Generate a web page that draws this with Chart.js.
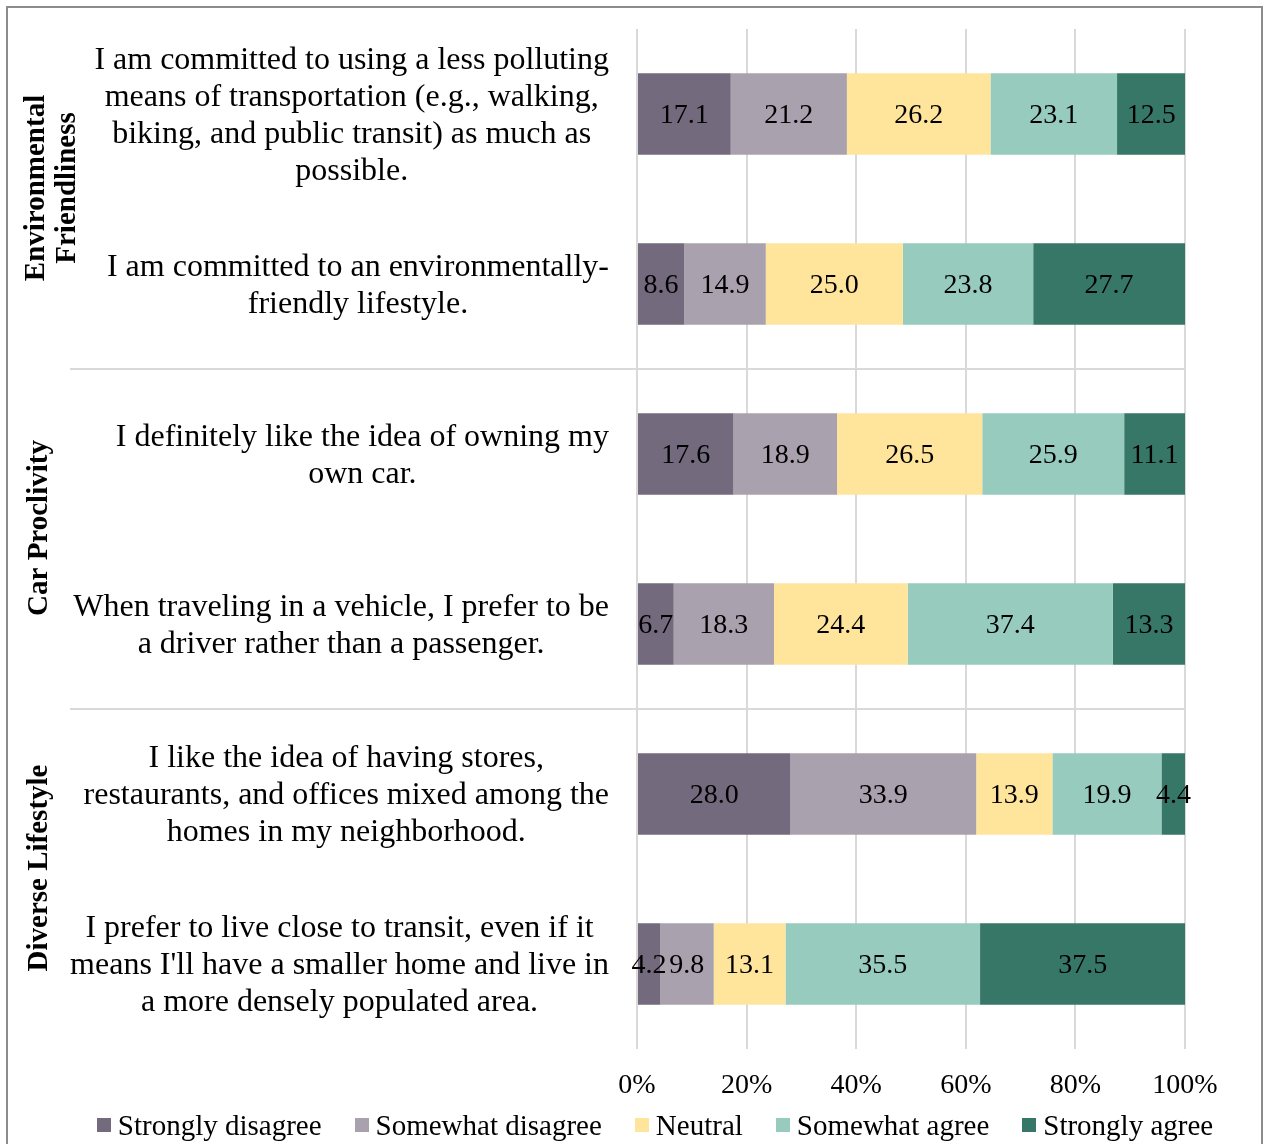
<!DOCTYPE html>
<html>
<head>
<meta charset="utf-8">
<title>Attitudes</title>
<script src="https://cdn.jsdelivr.net/npm/chart.js@4/dist/chart.umd.min.js"></script>
<style>
  html, body { margin: 0; padding: 0; background: #fff; overflow: hidden; }
  #wrap { position: relative; width: 1264px; height: 1144px; }
  #legend {
    position: absolute; left: 46px; right: 0; top: 1107px;
    display: flex; justify-content: center; gap: 33px;
    font: 29px/36px "Liberation Serif", "Times New Roman", serif; color: #000;
  }
  #legend span { display: flex; align-items: center; white-space: nowrap; }
  #legend i { display: inline-block; width: 14px; height: 14px; margin-right: 7px; }
</style>
</head>
<body>
<div id="wrap">
  <canvas id="chart" width="1264" height="1144"></canvas>
  <div id="legend"></div>
</div>
<script>
// Survey statements (y categories), wrapped the way the original shows them
const statements = [
    ['I am committed to using a less polluting', 'means of transportation (e.g., walking,', 'biking, and public transit) as much as', 'possible.'],
    ['I am committed to an environmentally-', 'friendly lifestyle.'],
    ['I definitely like the idea of owning my', 'own car.'],
    ['When traveling in a vehicle, I prefer to be', 'a driver rather than a passenger.'],
    ['I like the idea of having stores,', 'restaurants, and offices mixed among the', 'homes in my neighborhood.'],
    ["I prefer to live close to transit, even if it", "means I'll have a smaller home and live in", 'a more densely populated area.']
];

// Group headings and which statements they cover
const groupNames = [['Environmental', 'Friendliness'], ['Car Proclivity'], ['Diverse Lifestyle']];
const groupSpans = [[0, 1], [2, 3], [4, 5]];

// Percent of respondents per answer
const stronglyDisagree = [17.1, 8.6, 17.6, 6.7, 28.0, 4.2];
const somewhatDisagree = [21.2, 14.9, 18.9, 18.3, 33.9, 9.8];
const neutral = [26.2, 25.0, 26.5, 24.4, 13.9, 13.1];
const somewhatAgree = [23.1, 23.8, 25.9, 37.4, 19.9, 35.5];
const stronglyAgree = [12.5, 27.7, 11.1, 13.3, 4.4, 37.5];

const tickLabels = ['0%', '20%', '40%', '60%', '80%', '100%'];

const serif = '"Liberation Serif", "Times New Roman", serif';
Chart.defaults.font.family = serif;
Chart.defaults.color = '#000';

// Numbers inside each bar segment
const valueLabels = {
    id: 'valueLabels',
    afterDatasetsDraw(chart) {
        const ctx = chart.ctx;
        ctx.save();
        ctx.font = '28px ' + serif;
        ctx.fillStyle = '#000';
        ctx.textAlign = 'center';
        ctx.textBaseline = 'middle';
        chart.data.datasets.forEach((ds, i) => {
            chart.getDatasetMeta(i).data.forEach((bar, j) => {
                const c = bar.getCenterPoint();
                ctx.fillText(ds.data[j].toFixed(1), c.x, c.y + 2);
            });
        });
        ctx.restore();
    }
};

// Statement labels: each block centred on its own widest line, right edge near the axis
const statementLabels = {
    id: 'statementLabels',
    afterDraw(chart) {
        const ctx = chart.ctx;
        const y = chart.scales.y;
        const right = chart.chartArea.left - 28;
        const lineH = 37;
        ctx.save();
        ctx.font = '32px ' + serif;
        ctx.fillStyle = '#000';
        ctx.textAlign = 'center';
        ctx.textBaseline = 'middle';
        statements.forEach((lines, i) => {
            const w = Math.max(...lines.map(t => ctx.measureText(t).width));
            const cx = right - w / 2;
            const top = y.getPixelForValue(i) - (lines.length - 1) / 2 * lineH + 2;
            lines.forEach((t, k) => ctx.fillText(t, cx, top + k * lineH));
        });
        ctx.restore();
    }
};

// Group separators, rotated group headings and the outer frame
const groupLabels = {
    id: 'groupLabels',
    afterDraw(chart) {
        const ctx = chart.ctx;
        const y = chart.scales.y;
        const area = chart.chartArea;
        ctx.save();

        ctx.strokeStyle = '#d9d9d9';
        ctx.lineWidth = 2;
        for (let g = 1; g < groupSpans.length; g++) {
            const yy = Math.round((y.getPixelForValue(groupSpans[g - 1][1]) + y.getPixelForValue(groupSpans[g][0])) / 2);
            ctx.beginPath();
            ctx.moveTo(70, yy);
            ctx.lineTo(area.right, yy);
            ctx.stroke();
        }

        ctx.font = 'bold 29px ' + serif;
        ctx.fillStyle = '#000';
        ctx.textAlign = 'center';
        ctx.textBaseline = 'middle';
        groupNames.forEach((lines, g) => {
            const mid = (y.getPixelForValue(groupSpans[g][0]) + y.getPixelForValue(groupSpans[g][1])) / 2 - 11;
            const cx = lines.length > 1 ? 52 : 40;
            ctx.save();
            ctx.translate(cx, mid);
            ctx.rotate(-Math.PI / 2);
            lines.forEach((t, k) => ctx.fillText(t, 0, (k - (lines.length - 1) / 2) * 31));
            ctx.restore();
        });

        ctx.strokeStyle = '#8c8c8c';
        ctx.lineWidth = 2;
        ctx.strokeRect(7, 7, 1255, 1160);
        ctx.restore();
    }
};

const ctx = document.getElementById('chart').getContext('2d');

const chart = new Chart(ctx, {
    type: 'bar',
    data: {
        labels: statements,
        datasets: [
            { label: 'Strongly disagree', data: stronglyDisagree, backgroundColor: '#736a7e' },
            { label: 'Somewhat disagree', data: somewhatDisagree, backgroundColor: '#a9a1ad' },
            { label: 'Neutral', data: neutral, backgroundColor: '#ffe49c' },
            { label: 'Somewhat agree', data: somewhatAgree, backgroundColor: '#97cbbe' },
            { label: 'Strongly agree', data: stronglyAgree, backgroundColor: '#377767' }
        ]
    },
    options: {
        indexAxis: 'y',
        responsive: false,
        animation: false,
        devicePixelRatio: 1,
        categoryPercentage: 1,
        barPercentage: 0.48,
        layout: { padding: { top: 29, left: 46, right: 79, bottom: 35 } },
        scales: {
            x: {
                stacked: true,
                min: 0,
                max: 100,
                ticks: {
                    stepSize: 20,
                    padding: 20,
                    font: { size: 28 },
                    callback: v => tickLabels[v / 20]
                },
                grid: { color: '#d9d9d9', lineWidth: 2, drawTicks: false },
                border: { display: false },
                afterFit: s => { s.height = 60; }
            },
            y: {
                stacked: true,
                ticks: { display: false },
                grid: { display: false, drawTicks: false },
                border: { display: false },
                afterFit: s => {
                    s.width = 637 - 46;
                    s.paddingTop = 0;
                    s.paddingBottom = 0;
                }
            }
        },
        plugins: {
            legend: { display: false },
            tooltip: { enabled: false }
        }
    },
    plugins: [valueLabels, statementLabels, groupLabels]
});

// Legend built from the datasets
document.getElementById('legend').innerHTML = chart.data.datasets
    .map(ds => `<span><i style="background:${ds.backgroundColor}"></i>${ds.label}</span>`)
    .join('');
</script>
</body>
</html>
